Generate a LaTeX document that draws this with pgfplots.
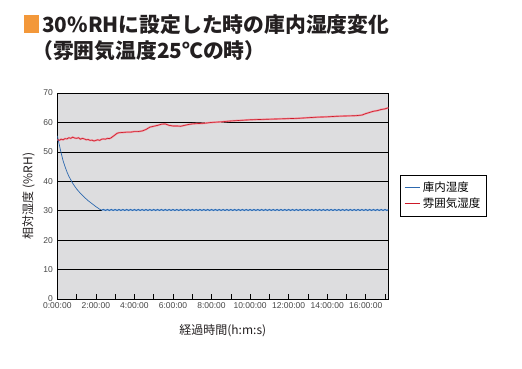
\documentclass[border=0pt]{standalone}
\usepackage{fontspec}
\setmainfont{Liberation Sans}
\newfontfamily\jp{Noto Sans CJK JP}
\usepackage{pgfplots}
\pgfplotsset{compat=1.18}
\definecolor{bgc}{RGB}{221,221,223}
\definecolor{orng}{RGB}{243,152,58}
\definecolor{blu}{RGB}{45,105,175}
\definecolor{bluL}{RGB}{150,185,225}
\definecolor{rd}{RGB}{205,25,40}
\definecolor{rdL}{RGB}{240,150,160}
\definecolor{ttl}{RGB}{35,31,32}
\definecolor{tk}{RGB}{70,70,70}
\begin{document}
\begin{tikzpicture}
\useasboundingbox (0pt,0pt) rectangle (522pt,-369pt);
\fill[orng] (24pt,-15pt) rectangle (39pt,-33pt);
\node[anchor=west, inner sep=0, text=ttl, font=\jp\bfseries\fontsize{20.8}{21}\selectfont] at (42pt,-25pt) {30\%RHに設定した時の庫内湿度変化};
\node[anchor=west, inner sep=0, text=ttl, font=\jp\bfseries\fontsize{20.8}{21}\selectfont] at (32pt,-51pt) {（雰囲気温度25℃の時）};
\begin{axis}[
  scale only axis, width=331pt, height=206pt,
  at={(57.3pt,-299pt)}, anchor=south west,
  xmin=0, xmax=17.17, ymin=0, ymax=70,
  axis background/.style={fill=bgc},
  axis line style={black, line width=0.8pt},
  xtick={0,1,...,17},
  xticklabels={0:00:00,,2:00:00,,4:00:00,,6:00:00,,8:00:00,,10:00:00,,12:00:00,,14:00:00,,16:00:00,},
  ytick={0,10,...,70},
  tick align=inside, major tick length=5pt,
  xtick style={black, line width=0.6pt},
  ytick style={draw=none},
  ymajorgrids, grid style={black, line width=0.6pt},
  tick label style={font=\fontsize{8.5}{8.5}\selectfont, text=tk},
  /pgf/number format/assume math mode=true,
  xtick pos=bottom,
  xticklabel style={yshift=-0.5pt},
  yticklabel style={xshift=-1pt},
  xlabel={\jp 経過時間(h:m:s)},
  ylabel={\jp 相対湿度 (\%RH)},
  xlabel style={font=\fontsize{12}{12}\selectfont, text=ttl, at={(axis description cs:0.5,-0.155)}, anchor=center},
  ylabel style={font=\fontsize{12}{12}\selectfont, text=ttl, at={(axis description cs:-0.087,0.5)}, anchor=center},
  legend style={at={(1.035,0.603)}, anchor=north west, draw=black, fill=white, line width=0.6pt, font=\jp\fontsize{11.5}{13}\selectfont, inner xsep=4pt, inner ysep=5pt, row sep=1pt},
  legend cell align=left,
  clip=true,
]
\addplot[rdL, line width=1.8pt, forget plot] coordinates {
(0,54.2)(0.1,53.9)(0.2,54.3)(0.3,54.1)(0.4,54.5)(0.5,54.4)(0.6,54.8)(0.7,54.6)(0.8,55.0)(0.9,54.7)(1.0,54.6)(1.1,54.8)(1.2,54.3)(1.3,54.6)(1.4,54.4)(1.5,54.1)(1.6,54.2)(1.7,53.9)(1.8,54.0)(1.9,53.7)(2.0,53.9)(2.1,54.1)(2.2,53.9)(2.3,54.3)(2.4,54.4)(2.5,54.3)(2.6,54.6)(2.7,54.5)(2.8,54.8)(2.9,55.3)(3.0,55.8)(3.1,56.3)(3.2,56.5)(3.4,56.6)(3.6,56.7)(3.8,56.7)(4.0,56.9)(4.2,56.9)(4.4,57.1)(4.6,57.6)(4.8,58.4)(5.0,58.7)(5.2,59.0)(5.4,59.4)(5.6,59.5)(5.8,59.0)(6.0,58.8)(6.2,58.8)(6.4,58.7)(6.6,59.0)(6.8,59.3)(7.0,59.5)(7.2,59.6)(7.6,59.7)(8.0,60.0)(8.5,60.2)(9.0,60.5)(9.5,60.7)(10.0,60.9)(10.5,61.0)(11.0,61.1)(11.5,61.2)(12.0,61.3)(12.5,61.4)(13.0,61.6)(13.5,61.8)(14.0,61.9)(14.5,62.1)(15.0,62.2)(15.5,62.3)(15.8,62.5)(16.0,63.0)(16.2,63.4)(16.4,63.8)(16.6,64.0)(16.8,64.4)(17.0,64.6)(17.17,65.0)};
\addplot[bluL, line width=1.8pt, forget plot] coordinates {(2.3,30.2)(17.17,30.2)};
\addplot[color=blu, line width=0.7pt, legend image code/.code={\draw[blu, line width=1pt] (0cm,0cm) -- (0.55cm,0cm);}] coordinates {
(0,55.5)(0.1,52.5)(0.2,49.6)(0.3,47.0)(0.4,45.0)(0.5,43.2)(0.6,41.7)(0.8,39.3)(1.0,37.4)(1.2,35.9)(1.4,34.6)(1.6,33.4)(1.8,32.4)(2.0,31.4)(2.2,30.5)(2.3,30.2)
(2.4,30.5)(2.5,30.0)(2.6,30.5)(2.7,30.0)(2.8,30.5)(2.9,30.0)(3.0,30.5)(3.1,30.0)(3.2,30.5)(3.3,30.0)(3.4,30.5)(3.5,30.0)(3.6,30.5)(3.7,30.0)(3.8,30.5)(3.9,30.0)
(4.0,30.5)(4.1,30.0)(4.2,30.5)(4.3,30.0)(4.4,30.5)(4.5,30.0)(4.6,30.5)(4.7,30.0)(4.8,30.5)(4.9,30.0)(5.0,30.5)(5.1,30.0)(5.2,30.5)(5.3,30.0)(5.4,30.5)(5.5,30.0)
(5.6,30.5)(5.7,30.0)(5.8,30.5)(5.9,30.0)(6.0,30.5)(6.1,30.0)(6.2,30.5)(6.3,30.0)(6.4,30.5)(6.5,30.0)(6.6,30.5)(6.7,30.0)(6.8,30.5)(6.9,30.0)(7.0,30.5)(7.1,30.0)
(7.2,30.5)(7.3,30.0)(7.4,30.5)(7.5,30.0)(7.6,30.5)(7.7,30.0)(7.8,30.5)(7.9,30.0)(8.0,30.5)(8.1,30.0)(8.2,30.5)(8.3,30.0)(8.4,30.5)(8.5,30.0)(8.6,30.5)(8.7,30.0)
(8.8,30.5)(8.9,30.0)(9.0,30.5)(9.1,30.0)(9.2,30.5)(9.3,30.0)(9.4,30.5)(9.5,30.0)(9.6,30.5)(9.7,30.0)(9.8,30.5)(9.9,30.0)(10.0,30.5)(10.1,30.0)(10.2,30.5)(10.3,30.0)
(10.4,30.5)(10.5,30.0)(10.6,30.5)(10.7,30.0)(10.8,30.5)(10.9,30.0)(11.0,30.5)(11.1,30.0)(11.2,30.5)(11.3,30.0)(11.4,30.5)(11.5,30.0)(11.6,30.5)(11.7,30.0)(11.8,30.5)(11.9,30.0)
(12.0,30.5)(12.1,30.0)(12.2,30.5)(12.3,30.0)(12.4,30.5)(12.5,30.0)(12.6,30.5)(12.7,30.0)(12.8,30.5)(12.9,30.0)(13.0,30.5)(13.1,30.0)(13.2,30.5)(13.3,30.0)(13.4,30.5)(13.5,30.0)
(13.6,30.5)(13.7,30.0)(13.8,30.5)(13.9,30.0)(14.0,30.5)(14.1,30.0)(14.2,30.5)(14.3,30.0)(14.4,30.5)(14.5,30.0)(14.6,30.5)(14.7,30.0)(14.8,30.5)(14.9,30.0)(15.0,30.5)(15.1,30.0)
(15.2,30.5)(15.3,30.0)(15.4,30.5)(15.5,30.0)(15.6,30.5)(15.7,30.0)(15.8,30.5)(15.9,30.0)(16.0,30.5)(16.1,30.0)(16.2,30.5)(16.3,30.0)(16.4,30.5)(16.5,30.0)(16.6,30.5)(16.7,30.0)
(16.8,30.5)(16.9,30.0)(17.0,30.5)(17.1,30.0)(17.17,30.4)};
\addlegendentry{庫内湿度}
\addplot[color=rd, line width=0.6pt, legend image code/.code={\draw[rd, line width=1pt] (0cm,0cm) -- (0.55cm,0cm);}] coordinates {
(0,54.2)(0.1,53.9)(0.2,54.3)(0.3,54.1)(0.4,54.5)(0.5,54.4)(0.6,54.8)(0.7,54.6)(0.8,55.0)(0.9,54.7)(1.0,54.6)(1.1,54.8)(1.2,54.3)(1.3,54.6)(1.4,54.4)(1.5,54.1)(1.6,54.2)(1.7,53.9)(1.8,54.0)(1.9,53.7)(2.0,53.9)(2.1,54.1)(2.2,53.9)(2.3,54.3)(2.4,54.4)(2.5,54.3)(2.6,54.6)(2.7,54.5)(2.8,54.8)(2.9,55.3)(3.0,55.8)(3.1,56.3)(3.2,56.5)(3.4,56.6)(3.6,56.7)(3.8,56.7)(4.0,56.9)(4.2,56.9)(4.4,57.1)(4.6,57.6)(4.8,58.4)(5.0,58.7)(5.2,59.0)(5.4,59.4)(5.6,59.5)(5.8,59.0)(6.0,58.8)(6.2,58.8)(6.4,58.7)(6.6,59.0)(6.8,59.3)(7.0,59.5)(7.2,59.6)(7.6,59.7)(8.0,60.0)(8.5,60.2)(9.0,60.5)(9.5,60.7)(10.0,60.9)(10.5,61.0)(11.0,61.1)(11.5,61.2)(12.0,61.3)(12.5,61.4)(13.0,61.6)(13.5,61.8)(14.0,61.9)(14.5,62.1)(15.0,62.2)(15.5,62.3)(15.8,62.5)(16.0,63.0)(16.2,63.4)(16.4,63.8)(16.6,64.0)(16.8,64.4)(17.0,64.6)(17.17,65.0)};
\addlegendentry{雰囲気湿度}
\end{axis}
\end{tikzpicture}
\end{document}
